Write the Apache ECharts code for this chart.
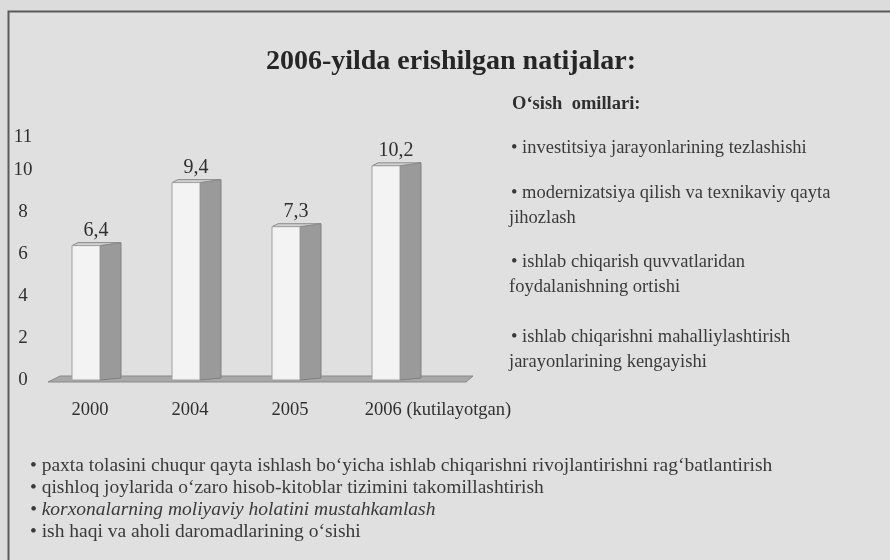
<!DOCTYPE html>
<html>
<head>
<meta charset="utf-8">
<script src="https://cdn.jsdelivr.net/npm/echarts@6/dist/echarts.min.js"></script>
<style>
  html, body { margin: 0; padding: 0; background: #dcdcdc; }
  #chart { width: 890px; height: 560px; }
</style>
</head>
<body>
<div id="chart"></div>
<script>
// data
const years = ['2000', '2004', '2005', '2006 (kutilayotgan)'];
const growth = [6.4, 9.4, 7.3, 10.2];
const yTicks = [0, 2, 4, 6, 8, 10, 11];

const title = '2006-yilda erishilgan natijalar:';
const factorsTitle = 'O\u2018sish  omillari:';
const factors = [
  ['\u2022 investitsiya jarayonlarining tezlashishi'],
  ['\u2022 modernizatsiya qilish va texnikaviy qayta', 'jihozlash'],
  ['\u2022 ishlab chiqarish quvvatlaridan', 'foydalanishning ortishi'],
  ['\u2022 ishlab chiqarishni mahalliylashtirish', 'jarayonlarining kengayishi']
];
const measures = [
  '\u2022 paxta tolasini chuqur qayta ishlash bo\u2018yicha ishlab chiqarishni rivojlantirishni rag\u2018batlantirish',
  '\u2022 qishloq joylarida o\u2018zaro hisob-kitoblar tizimini takomillashtirish',
  '\u2022 korxonalarning moliyaviy holatini mustahkamlash',
  '\u2022 ish haqi va aholi daromadlarining o\u2018sishi'
];

const serif = '"Liberation Serif", "DejaVu Serif", serif';
const ink = '#2f2f2f';

let myChart = echarts.init(document.getElementById('chart'));

// 3d-ish bar: white front face, grey side face, thin top
function renderBar(params, api) {
  let cat = api.value(0);
  let val = api.value(1);
  let top = api.coord([cat, val]);
  let base = api.coord([cat, 0]);
  let band = api.size([1, 0])[0];
  let x0 = top[0] - band * 0.18;
  let x1 = top[0] + band * 0.10;
  let x2 = top[0] + band * 0.31;
  let lift = 3;
  return {
    type: 'group',
    children: [
      {
        type: 'polygon',
        shape: { points: [[x1, base[1]], [x1, top[1]], [x2, top[1] - lift], [x2, base[1] - 2]] },
        style: { fill: '#9a9a9a', stroke: '#808080', lineWidth: 1 }
      },
      {
        type: 'polygon',
        shape: { points: [[x0, top[1]], [x0 + 6, top[1] - lift], [x2, top[1] - lift], [x1, top[1]]] },
        style: { fill: '#cfcfcf', stroke: '#8c8c8c', lineWidth: 1 }
      },
      {
        type: 'rect',
        shape: { x: x0, y: top[1], width: x1 - x0, height: base[1] - top[1] },
        style: { fill: '#f3f3f3', stroke: '#a0a0a0', lineWidth: 1 }
      },
      {
        type: 'text',
        style: {
          text: String(val).replace('.', ','),
          x: top[0] + band * 0.06,
          y: top[1] - 15,
          align: 'center',
          verticalAlign: 'middle',
          font: '20px ' + serif,
          fill: ink
        }
      }
    ]
  };
}

let graphics = [
  {
    type: 'rect',
    shape: { x: 8.5, y: 11.5, width: 900, height: 600 },
    style: { fill: '#e0e0e0', stroke: '#5a5a5a', lineWidth: 2 },
    z: -10
  },
  {
    type: 'polygon',
    shape: { points: [[48, 382], [60, 376], [473, 376], [466, 382]] },
    style: { fill: '#a8a8a8', stroke: '#8a8a8a', lineWidth: 1 },
    z: -1
  },
  {
    type: 'text',
    style: { text: title, x: 451, y: 62, align: 'center', verticalAlign: 'middle',
      font: 'bold 28px ' + serif, fill: '#262626' }
  },
  {
    type: 'text',
    style: { text: factorsTitle, x: 512, y: 104, verticalAlign: 'middle',
      font: 'bold 18.5px ' + serif, fill: ink }
  }
];

let factorY = [148, 193, 262, 337];
factors.forEach(function (lines, i) {
  lines.forEach(function (line, j) {
    graphics.push({
      type: 'text',
      style: { text: line, x: j === 0 ? 511 : 509, y: factorY[i] + j * 25, verticalAlign: 'middle',
        font: '18.5px ' + serif, fill: '#3a3a3a' }
    });
  });
});

measures.forEach(function (line, i) {
  graphics.push({
    type: 'text',
    style: { text: line, x: 30, y: 466 + i * 22, verticalAlign: 'middle',
      font: (i === 2 ? 'italic ' : '') + '19.5px ' + serif, fill: '#3a3a3a' }
  });
});

let option = {
  backgroundColor: '#dcdcdc',
  animation: false,
  grid: { left: 40, right: 450, top: 149, bottom: 180 },
  xAxis: {
    type: 'category',
    data: years,
    axisLine: { show: false },
    axisTick: { show: false },
    axisLabel: {
      interval: 0,
      hideOverlap: false,
      margin: 21,
      fontFamily: serif,
      fontSize: 18.5,
      color: ink,
      formatter: function (v, i) {
        return i === years.length - 1 ? '{last|' + v + '}' : v;
      },
      rich: {
        last: { fontFamily: serif, fontSize: 18.5, color: ink, padding: [0, 0, 0, 96] }
      }
    }
  },
  yAxis: {
    type: 'value',
    min: 0,
    max: 11,
    axisLine: { show: false },
    axisTick: { show: false },
    splitLine: { show: false },
    axisLabel: {
      customValues: yTicks,
      align: 'center',
      margin: 17,
      fontFamily: serif,
      fontSize: 19,
      color: ink,
      formatter: function (v) {
        return v === 11 ? '{top|11}' : String(v);
      },
      rich: {
        top: { fontFamily: serif, fontSize: 19, color: ink, padding: [0, 0, 24, 0] }
      }
    }
  },
  graphic: graphics,
  series: [
    {
      type: 'custom',
      renderItem: renderBar,
      data: growth.map(function (v, i) { return [i, v]; }),
      encode: { x: 0, y: 1 }
    }
  ]
};

myChart.setOption(option);
</script>
</body>
</html>
